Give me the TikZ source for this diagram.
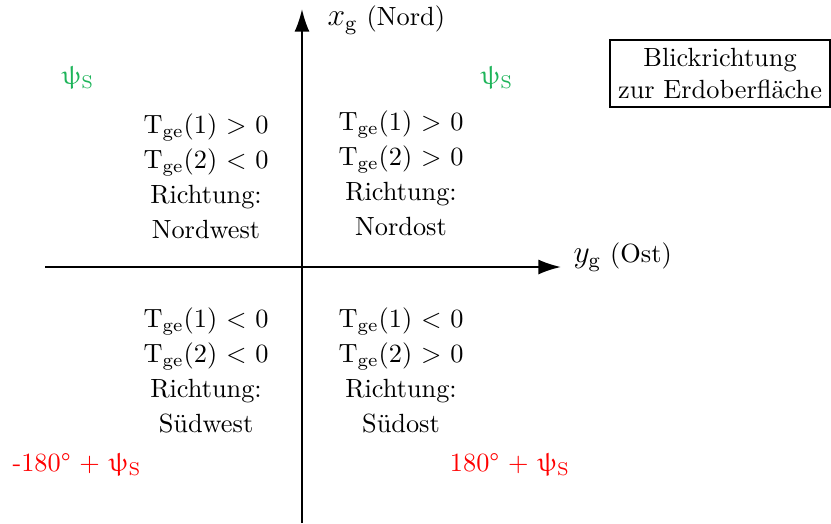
\documentclass[tikz,border=0pt]{standalone}
\usepackage{upgreek}
\usetikzlibrary{arrows.meta}
\definecolor{psigreen}{RGB}{30,180,90}
\begin{document}
\begin{tikzpicture}[x=0.38pt,y=-0.38pt,
  axis/.style={line width=0.75pt,-{Latex[length=8.6pt,width=5.7pt]}},
  quad/.style={align=center,inner sep=0pt,execute at begin node={\setlength{\baselineskip}{13.3pt}}},
  greenlbl/.style={text=psigreen,inner sep=0pt},
  redlbl/.style={text=red,inner sep=0pt},
  infobox/.style={draw,line width=0.6pt,align=center,minimum width=83.6pt,minimum height=25.5pt,inner sep=0pt,execute at begin node={\setlength{\baselineskip}{12.5pt}}}]
\useasboundingbox (0,0) rectangle (831,523);
\coordinate (vbot) at (302,523);
\coordinate (vtop) at (302,9);
\coordinate (hleft) at (45,267);
\coordinate (hright) at (561,267);
\draw[axis] (vbot) -- (vtop);
\draw[axis] (hleft) -- (hright);
\node[anchor=west,inner sep=0pt] (xlab) at (327,20) {{\large$x_{\mathrm{g}}$} (Nord)};
\node[anchor=west,inner sep=0pt] (ylab) at (573,257) {{\large$y_{\mathrm{g}}$} (Ost)};
\node[infobox] (box) at (720,73.5) {Blickrichtung\\zur Erdoberfläche};
\node[greenlbl] (psil) at (78,78) {$\uppsi_{\mathrm{S}}$};
\node[greenlbl] (psir) at (497,78) {$\uppsi_{\mathrm{S}}$};
\node[quad] (nw) at (206,176) {T$_{\mathrm{ge}}$(1) $>$ 0\\T$_{\mathrm{ge}}$(2) $<$ 0\\Richtung:\\Nordwest};
\node[quad] (ne) at (401,173) {T$_{\mathrm{ge}}$(1) $>$ 0\\T$_{\mathrm{ge}}$(2) $>$ 0\\Richtung:\\Nordost};
\node[quad] (sw) at (206,370) {T$_{\mathrm{ge}}$(1) $<$ 0\\T$_{\mathrm{ge}}$(2) $<$ 0\\Richtung:\\Südwest};
\node[quad] (se) at (401,370) {T$_{\mathrm{ge}}$(1) $<$ 0\\T$_{\mathrm{ge}}$(2) $>$ 0\\Richtung:\\Südost};
\node[redlbl] (rl) at (77,465) {-180\textdegree{} + $\uppsi_{\mathrm{S}}$};
\node[redlbl] (rr) at (510,465) {180\textdegree{} + $\uppsi_{\mathrm{S}}$};
\end{tikzpicture}
\end{document}
